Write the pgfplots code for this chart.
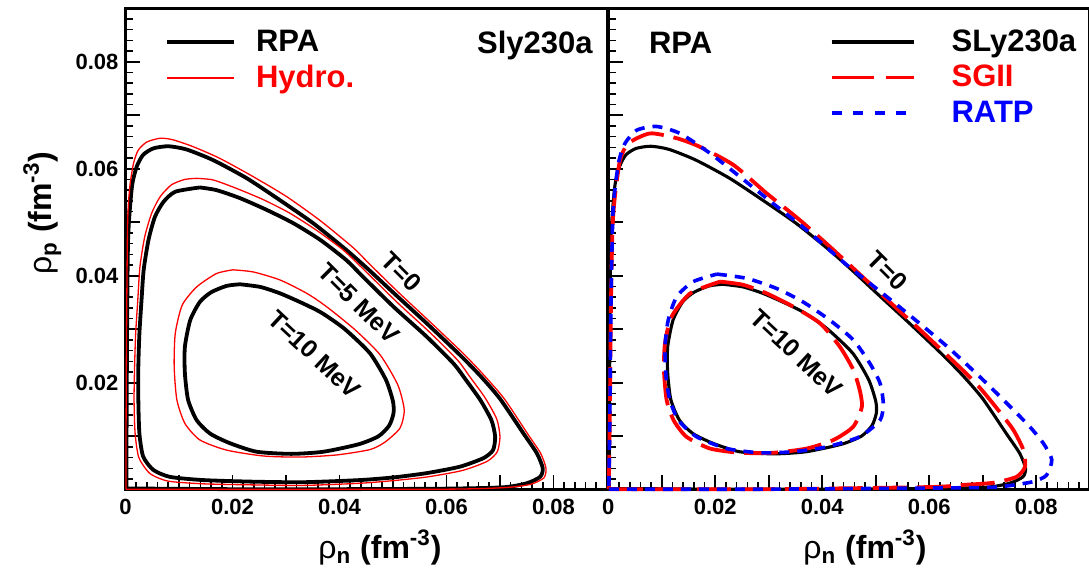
\documentclass[border=0pt]{standalone}
\usepackage{fontspec}
\setmainfont{Liberation Sans}
\usepackage{pgfplots}
\usepackage{pgfplotstable}
\pgfplotsset{compat=1.18}
\definecolor{rred}{rgb}{1,0,0}
\definecolor{rblue}{rgb}{0,0,1}
\newcommand\tickfont{\fontsize{11}{13}\selectfont\bfseries}
\newcommand\legfont{\fontsize{15.5}{18}\selectfont\bfseries}
\newcommand\curvefont{\fontsize{12.5}{15}\selectfont\bfseries}
\newcommand\labfont{\fontsize{16}{19}\selectfont\bfseries}

% RPA / SLy230a, T=0
\pgfplotstableread{
x y
0.0002 0.0002
0.0050 0.0002
0.0200 0.0001
0.0400 0.0001
0.0600 0.0002
0.0706 0.00045
0.0750 0.0012
0.0775 0.0024
0.0780 0.0040
0.0769 0.0068
0.0744 0.0105
0.0700 0.0170
0.0664 0.0212
0.0625 0.0252
0.0563 0.0311
0.0501 0.0368
0.0457 0.0409
0.0413 0.0448
0.0351 0.0498
0.0289 0.0541
0.0227 0.0582
0.0164 0.0616
0.0114 0.0636
0.0080 0.0642
0.0052 0.0638
0.0033 0.0626
0.0021 0.0604
0.0012 0.0566
0.0005 0.0473
0.0003 0.0300
0.0002 0.0100
0.0002 0.0002
}\rpaTzero
% Hydro, T=0
\pgfplotstableread{
x y
0.0001 0.0001
0.0200 0.0001
0.0600 0.0001
0.0710 0.0004
0.0757 0.0010
0.0782 0.0022
0.0786 0.0040
0.0776 0.0068
0.0752 0.0104
0.0708 0.0170
0.0671 0.0213
0.0633 0.0253
0.0570 0.0313
0.0508 0.0371
0.0457 0.0421
0.0426 0.0452
0.0364 0.0503
0.0301 0.0548
0.0239 0.0585
0.0177 0.0619
0.0127 0.0641
0.0089 0.0654
0.0065 0.0657
0.0040 0.0650
0.0024 0.0635
0.0015 0.0610
0.0008 0.0566
0.0004 0.0500
0.0002 0.0300
0.0001 0.0100
0.0001 0.0001
}\hydTzero
% RPA T=5
\pgfplotstableread{
x y
0.0139 0.0565
0.0170 0.0560
0.0214 0.0545
0.0264 0.0523
0.0314 0.0498
0.0364 0.0467
0.0413 0.0429
0.0442 0.0400
0.0501 0.0342
0.0563 0.0286
0.0613 0.0236
0.0635 0.0207
0.0663 0.0168
0.0684 0.0130
0.0691 0.0099
0.0687 0.0074
0.0669 0.0059
0.0625 0.0043
0.0563 0.0031
0.0501 0.0023
0.0438 0.0018
0.0332 0.0014
0.0239 0.0015
0.0145 0.0018
0.0083 0.0024
0.0052 0.0037
0.0033 0.0062
0.0026 0.0105
0.0024 0.0168
0.0024 0.0230
0.0026 0.0292
0.0030 0.0355
0.0034 0.0411
0.0043 0.0467
0.0055 0.0510
0.0071 0.0538
0.0093 0.0557
0.0139 0.0565
}\rpaTfive
% Hydro T=5
\pgfplotstableread{
x y
0.0133 0.0582
0.0164 0.0579
0.0208 0.0563
0.0258 0.0542
0.0307 0.0517
0.0357 0.0485
0.0407 0.0448
0.0447 0.0410
0.0508 0.0350
0.0570 0.0293
0.0621 0.0242
0.0643 0.0212
0.0672 0.0172
0.0694 0.0132
0.0700 0.0099
0.0695 0.0071
0.0676 0.0053
0.0630 0.0036
0.0565 0.0024
0.0501 0.0017
0.0438 0.0012
0.0332 0.0008
0.0239 0.0009
0.0145 0.0011
0.0080 0.0016
0.0046 0.0030
0.0025 0.0060
0.0018 0.0105
0.0016 0.0168
0.0017 0.0230
0.0019 0.0292
0.0023 0.0355
0.0027 0.0417
0.0036 0.0473
0.0049 0.0517
0.0065 0.0548
0.0086 0.0570
0.0111 0.0580
0.0133 0.0582
}\hydTfive
% RPA / SLy230a T=10
\pgfplotstableread{
x y
0.0214 0.0384
0.0252 0.0379
0.0289 0.0367
0.0330 0.0349
0.0366 0.0331
0.0409 0.0301
0.0457 0.0255
0.0487 0.0205
0.0500 0.0165
0.0501 0.0143
0.0493 0.0120
0.0473 0.0100
0.0436 0.0085
0.0370 0.0071
0.0310 0.0067
0.0245 0.0071
0.0195 0.0087
0.0158 0.0105
0.0133 0.0130
0.0117 0.0168
0.0111 0.0218
0.0111 0.0267
0.0121 0.0317
0.0139 0.0351
0.0160 0.0369
0.0189 0.0381
0.0214 0.0384
}\rpaTten
% Hydro T=10
\pgfplotstableread{
x y
0.0201 0.0411
0.0239 0.0407
0.0289 0.0392
0.0339 0.0367
0.0376 0.0342
0.0429 0.0299
0.0476 0.0252
0.0509 0.0196
0.0521 0.0149
0.0513 0.0115
0.0485 0.0089
0.0457 0.0075
0.0395 0.0065
0.0326 0.0061
0.0258 0.0063
0.0189 0.0074
0.0139 0.0093
0.0111 0.0124
0.0096 0.0168
0.0091 0.0230
0.0093 0.0292
0.0106 0.0345
0.0133 0.0379
0.0170 0.0404
0.0201 0.0411
}\hydTten
% SGII T=0
\pgfplotstableread{
x y
0.0001 0.0001
0.0300 0.0001
0.0601 0.0005
0.0664 0.0009
0.0720 0.0013
0.0763 0.0024
0.0779 0.0043
0.0776 0.0074
0.0757 0.0112
0.0728 0.0150
0.0695 0.0190
0.0664 0.0222
0.0589 0.0293
0.0514 0.0362
0.0421 0.0448
0.0358 0.0504
0.0296 0.0554
0.0234 0.0607
0.0171 0.0641
0.0128 0.0657
0.0078 0.0666
0.0037 0.0647
0.0022 0.0616
0.0013 0.0554
0.0008 0.0492
0.0005 0.0350
0.0003 0.0150
0.0001 0.0001
}\sgTzero
% RATP T=0
\pgfplotstableread{
x y
0.0001 0.0001
0.0300 0.0001
0.0695 0.0004
0.0745 0.0007
0.0794 0.0015
0.0819 0.0027
0.0829 0.0056
0.0813 0.0087
0.0782 0.0124
0.0707 0.0199
0.0633 0.0268
0.0539 0.0346
0.0446 0.0420
0.0371 0.0485
0.0308 0.0535
0.0246 0.0585
0.0190 0.0629
0.0134 0.0666
0.0090 0.0679
0.0053 0.0672
0.0031 0.0647
0.0019 0.0610
0.0009 0.0523
0.0005 0.0350
0.0003 0.0150
0.0001 0.0001
}\raTzero
% SGII T=10
\pgfplotstableread{
x y
0.0209 0.0389
0.0252 0.0383
0.0296 0.0367
0.0346 0.0342
0.0396 0.0311
0.0433 0.0267
0.0458 0.0224
0.0470 0.0186
0.0474 0.0155
0.0458 0.0118
0.0421 0.0093
0.0371 0.0077
0.0308 0.0069
0.0246 0.0069
0.0190 0.0077
0.0146 0.0099
0.0122 0.0130
0.0109 0.0168
0.0104 0.0224
0.0106 0.0274
0.0118 0.0323
0.0153 0.0367
0.0209 0.0389
}\sgTten
% RATP T=10
\pgfplotstableread{
x y
0.0203 0.0403
0.0259 0.0395
0.0315 0.0376
0.0364 0.0351
0.0414 0.0317
0.0458 0.0280
0.0489 0.0236
0.0508 0.0199
0.0514 0.0161
0.0508 0.0130
0.0470 0.0099
0.0408 0.0080
0.0346 0.0071
0.0284 0.0069
0.0221 0.0077
0.0165 0.0099
0.0131 0.0130
0.0115 0.0168
0.0108 0.0211
0.0106 0.0267
0.0112 0.0317
0.0128 0.0361
0.0159 0.0389
0.0203 0.0403
}\raTten

\pgfplotsset{panel/.style={
  scale only axis, width=240.75pt, height=240.75pt,
  xmin=0, xmax=0.09, ymin=0, ymax=0.09,
  clip=false,
  scaled x ticks=false, scaled y ticks=false,
  axis line style={line width=1.3pt},
  tick align=inside,
  xtick pos=bottom, ytick pos=left,
  xtick={0,0.01,0.02,0.03,0.04,0.05,0.06,0.07,0.08,0.09},
  xticklabels={0,,0.02,,0.04,,0.06,,0.08,},
  ytick={0,0.01,0.02,0.03,0.04,0.05,0.06,0.07,0.08,0.09},
  minor x tick num=4, minor y tick num=4,
  major tick length=7.5pt, minor tick length=4pt,
  tick style={black, line width=0.8pt},
  tick label style={font=\tickfont},
  xticklabel style={yshift=-1pt},
  legend cell align=left,
  legend style={draw=none, fill=none, inner sep=0pt, outer sep=0pt, font=\legfont,
    nodes={inner sep=0pt, text height=11pt, text depth=2pt}},
}}

\begin{document}
\begin{tikzpicture}
% ---------------- left panel ----------------
\begin{axis}[panel, at={(0pt,0pt)}, anchor=south west,
  yticklabels={,,0.02,,0.04,,0.06,,0.08,},
  legend style={at={(axis cs:0.0074,0.0861)}, anchor=north west, row sep=5pt, column sep=10pt},
  legend image code/.code={\draw[#1] (0pt,0pt) -- (33.5pt,0pt);}]
\addlegendimage{black, line width=2pt}
\addlegendentry{RPA}
\addlegendimage{rred, line width=0.65pt}
\addlegendentry{\textcolor{rred}{Hydro.}}
\addplot[forget plot, black, line width=1.9pt, smooth, tension=0.4] table {\rpaTzero};
\addplot[forget plot, black, line width=1.9pt, smooth, tension=0.4] table {\rpaTfive};
\addplot[forget plot, black, line width=1.9pt, smooth, tension=0.4] table {\rpaTten};
\addplot[forget plot, rred, line width=0.65pt, smooth, tension=0.4] table {\hydTzero};
\addplot[forget plot, rred, line width=0.65pt, smooth, tension=0.4] table {\hydTfive};
\addplot[forget plot, rred, line width=0.65pt, smooth, tension=0.4] table {\hydTten};
\node[font=\legfont, anchor=base west] at (axis cs:0.0644,0.0816) {Sly230a};
\node[font=\curvefont, rotate=-45] at (axis cs:0.0516,0.0407) {T=0};
\node[font=\curvefont, rotate=-45] at (axis cs:0.0436,0.0348) {T=5 MeV};
\node[font=\curvefont, rotate=-43] at (axis cs:0.0353,0.0253) {T=10 MeV};
\end{axis}
% ---------------- right panel ----------------
\begin{axis}[panel, at={(241.4pt,0pt)}, anchor=south west,
  yticklabels={},
  legend style={at={(axis cs:0.0414,0.0861)}, anchor=north west, row sep=4.75pt, column sep=18pt},
  legend image code/.code={\draw[#1] (0pt,0pt) -- (41pt,0pt);}]
\addlegendimage{black, line width=1.7pt}
\addlegendentry{SLy230a}
\addlegendimage{rred, line width=1.9pt, dash pattern=on 21pt off 6pt}
\addlegendentry{\textcolor{rred}{SGII}}
\addlegendimage{rblue, line width=1.8pt, dash pattern=on 5pt off 5.8pt}
\addlegendentry{\textcolor{rblue}{RATP}}
\addplot[forget plot, black, line width=1.55pt, smooth, tension=0.4] table {\rpaTzero};
\addplot[forget plot, black, line width=1.55pt, smooth, tension=0.4] table {\rpaTten};
\addplot[forget plot, rred, line width=1.9pt, dash pattern=on 17pt off 5pt, smooth, tension=0.4] table {\sgTzero};
\addplot[forget plot, rred, line width=1.9pt, dash pattern=on 17pt off 5pt, smooth, tension=0.4] table {\sgTten};
\addplot[forget plot, rblue, line width=1.8pt, dash pattern=on 5pt off 4pt, smooth, tension=0.4] table {\raTzero};
\addplot[forget plot, rblue, line width=1.8pt, dash pattern=on 5pt off 4pt, smooth, tension=0.4] table {\raTten};
\node[font=\legfont, anchor=base west] at (axis cs:0.0063,0.0816) {RPA};
\node[font=\curvefont, rotate=-45] at (axis cs:0.0522,0.0409) {T=0};
\node[font=\curvefont, rotate=-43] at (axis cs:0.0352,0.0255) {T=10 MeV};
\end{axis}
% axis titles
\node[font=\labfont, anchor=base] at (127.25pt,-34.15pt) {{\mdseries ρ}\textsubscript{n} (fm\textsuperscript{-3})};
\node[font=\labfont, anchor=base] at (369.75pt,-34.15pt) {{\mdseries ρ}\textsubscript{n} (fm\textsuperscript{-3})};
\node[font=\labfont, anchor=base, rotate=90] at (-37pt,138.3pt) {{\mdseries ρ}\textsubscript{p} (fm\textsuperscript{-3})};
\pgfresetboundingbox
\path[use as bounding box] (-62.75pt,-42.65pt) rectangle (481.75pt,244.85pt);
\end{tikzpicture}
\end{document}
